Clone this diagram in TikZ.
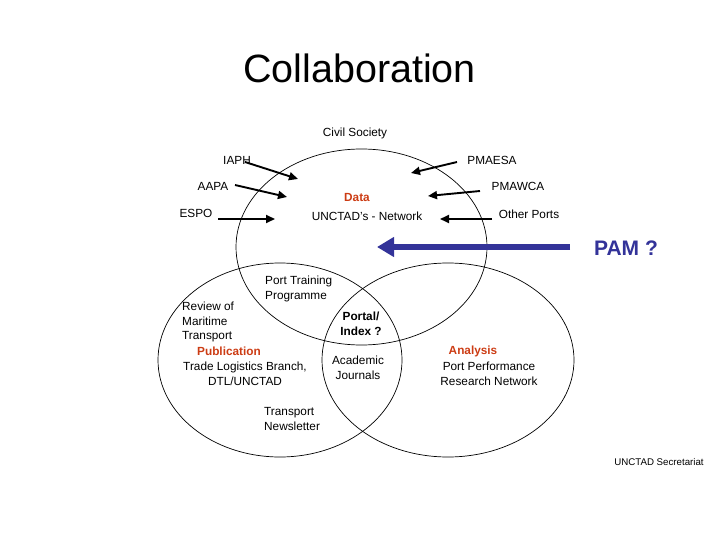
\documentclass[tikz,border=0pt]{standalone}
\usepackage{fontspec}
\setmainfont{Liberation Sans}
\usetikzlibrary{arrows.meta}
\definecolor{accred}{RGB}{204,60,20}
\definecolor{pamblue}{RGB}{51,51,153}
\tikzset{
  lbl/.style={inner sep=0pt, font=\fontsize{11.8}{14.8}\selectfont},
  lblL/.style={lbl, anchor=west, align=left},
  lblC/.style={lbl, align=center},
  redlbl/.style={lbl, font=\fontsize{11.8}{14.8}\selectfont\bfseries, text=accred},
  boldlbl/.style={lbl, align=center, font=\fontsize{11.8}{14.8}\selectfont\bfseries},
  ring/.style={draw=black, line width=0.7pt},
  darr/.style={draw=black, line width=1.9pt, -{Triangle[length=9pt,width=8pt]}},
  bigarr/.style={draw=pamblue, line width=6.5pt, -{Triangle[length=17pt,width=19pt]}}
}
\begin{document}
\begin{tikzpicture}[x=1pt,y=-1pt]
\useasboundingbox (0,0) rectangle (720,540);
% circles
\draw[ring] (361.5,247) ellipse [x radius=125.5pt, y radius=98pt];
\draw[ring] (280,360) ellipse [x radius=122pt, y radius=97pt];
\draw[ring] (448,360) ellipse [x radius=126pt, y radius=97pt];
% title
\node[inner sep=0pt, font=\fontsize{39.5}{44}\selectfont] (title) at (359.5,68) {Collaboration};
\node[lbl] (civil) at (355,133) {Civil Society};
% top labels
\node[lbl] (iaph) at (237,160) {IAPH};
\node[lbl] (aapa) at (213,186) {AAPA};
\node[lbl] (espo) at (196,213) {ESPO};
\node[lbl] (pmaesa) at (492,160) {PMAESA};
\node[lbl] (pmawca) at (518,186) {PMAWCA};
\node[lbl] (other) at (529,214) {Other Ports};
\node[redlbl] (data) at (357,197) {Data};
\node[lbl] (network) at (367,216) {UNCTAD's - Network};
% arrow endpoints
\coordinate (iaphS) at (245,162);  \coordinate (iaphT) at (298,179);
\coordinate (aapaS) at (235,185);  \coordinate (aapaT) at (287,197);
\coordinate (espoS) at (218,219);  \coordinate (espoT) at (275,219);
\coordinate (pmaesaS) at (457,162); \coordinate (pmaesaT) at (411,173);
\coordinate (pmawcaS) at (480,191); \coordinate (pmawcaT) at (428,196);
\coordinate (otherS) at (492,219); \coordinate (otherT) at (440,219);
\draw[darr] (iaphS) -- (iaphT);
\draw[darr] (aapaS) -- (aapaT);
\draw[darr] (espoS) -- (espoT);
\draw[darr] (pmaesaS) -- (pmaesaT);
\draw[darr] (pmawcaS) -- (pmawcaT);
\draw[darr] (otherS) -- (otherT);
% PAM
\node[inner sep=0pt, font=\fontsize{21}{24}\selectfont\bfseries, text=pamblue] (pam) at (626,248) {PAM ?};
\coordinate (pamS) at (570,247);
\coordinate (pamT) at (377,247);
\draw[bigarr] (pamS) -- (pamT);
% lower labels
\node[lblL] (ptp) at (265,289) {Port Training\\Programme};
\node[lblL] (rmt) at (182,322) {Review of\\Maritime\\Transport};
\node[redlbl] (pub) at (229,351) {Publication};
\node[lblC] (tlb) at (245,374) {Trade Logistics Branch,\\DTL/UNCTAD};
\node[lblL] (tn) at (264,419) {Transport\\Newsletter};
\node[boldlbl] (portal) at (361,323.5) {Portal/\\Index ?};
\node[lblC] (acad) at (358,367.5) {Academic\\Journals};
\node[redlbl] (anal) at (473,351) {Analysis};
\node[lblC] (ppr) at (489,374) {Port Performance\\Research Network};
\node[inner sep=0pt, font=\fontsize{9.7}{11}\selectfont] (sec) at (659,462) {UNCTAD Secretariat};
\end{tikzpicture}
\end{document}
